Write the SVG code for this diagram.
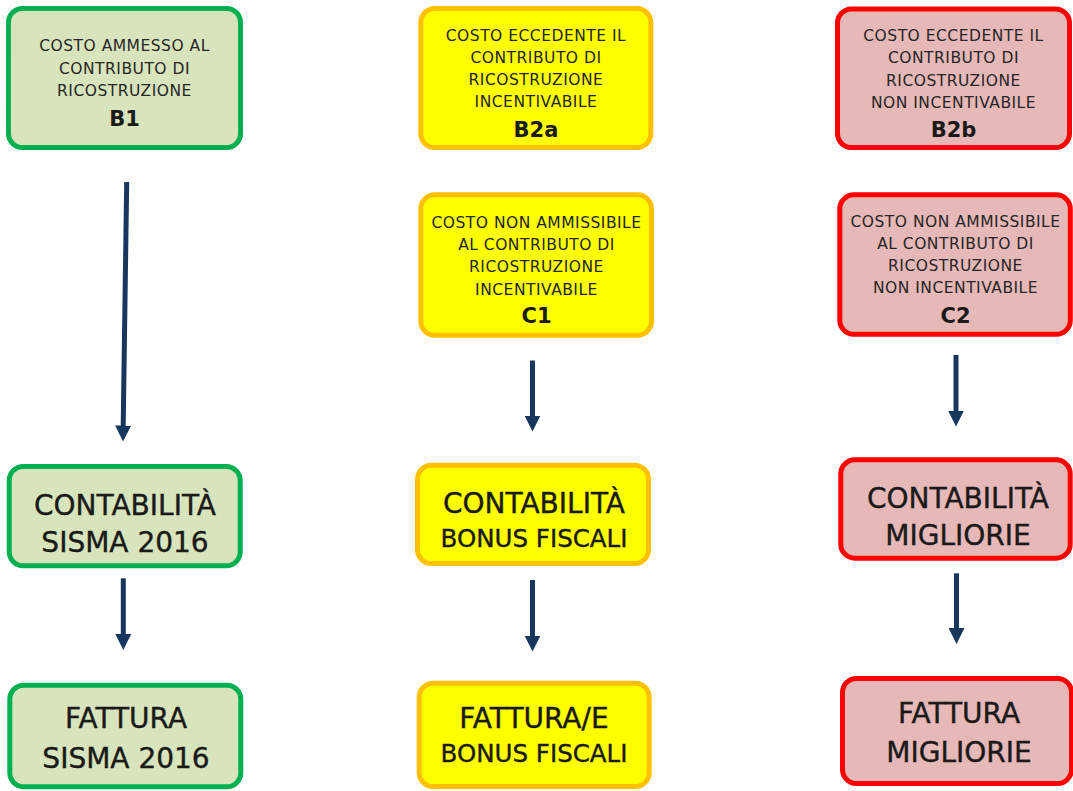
<svg xmlns="http://www.w3.org/2000/svg" width="1073" height="791" viewBox="0 0 1073 791">
<style>
  .box { stroke-width: 5; }
  .g { fill: #D8E4BC; stroke: #00B050; }
  .y { fill: #FFFF00; stroke: #FFC000; }
  .r { fill: #E6B8B7; stroke: #FF0000; }
  text { font-family: "DejaVu Sans", Verdana, sans-serif; text-anchor: middle; fill: #262626; }
  .s { font-size: 15.5px; letter-spacing: 0.5px; }
  .code { font-size: 21px; font-weight: bold; fill: #1a1a1a; }
  .big { font-size: 28px; fill: #1a1a1a; stroke: #1a1a1a; stroke-width: 0.4px; }
  .mid { font-size: 24.5px; fill: #1a1a1a; stroke: #1a1a1a; stroke-width: 0.4px; }
  .arr { stroke: #17375E; stroke-width: 5; fill: none; marker-end: url(#ah); }
</style>
<defs>
  <marker id="ah" viewBox="0 0 16 16" refX="0.5" refY="8" markerWidth="16" markerHeight="16" markerUnits="userSpaceOnUse" orient="auto">
    <path d="M0,0 L16,8 L0,16 z" fill="#17375E"/>
  </marker>
</defs>
<rect width="1073" height="791" fill="#ffffff"/>

<g id="B1">
  <rect class="box g" x="8.5" y="8.5" width="232" height="139" rx="14"/>
  <text class="s" x="124.5" y="51">COSTO AMMESSO AL</text>
  <text class="s" x="124.5" y="73.5">CONTRIBUTO DI</text>
  <text class="s" x="124.5" y="96">RICOSTRUZIONE</text>
  <text class="code" x="124.5" y="126">B1</text>
</g>

<g id="B2a">
  <rect class="box y" x="420.8" y="8.5" width="230" height="139" rx="14"/>
  <text class="s" x="536" y="40.7">COSTO ECCEDENTE IL</text>
  <text class="s" x="536" y="62.7">CONTRIBUTO DI</text>
  <text class="s" x="536" y="85">RICOSTRUZIONE</text>
  <text class="s" x="536" y="107.3">INCENTIVABILE</text>
  <text class="code" x="536" y="136.7">B2a</text>
</g>

<g id="B2b">
  <rect class="box r" x="837.5" y="9" width="232" height="138.5" rx="14"/>
  <text class="s" x="953.5" y="40.7">COSTO ECCEDENTE IL</text>
  <text class="s" x="953.5" y="63.3">CONTRIBUTO DI</text>
  <text class="s" x="953.5" y="86">RICOSTRUZIONE</text>
  <text class="s" x="953.5" y="107.7">NON INCENTIVABILE</text>
  <text class="code" x="953.5" y="137.3">B2b</text>
</g>

<g id="C1">
  <rect class="box y" x="420.8" y="194.8" width="230.7" height="140.5" rx="14"/>
  <text class="s" x="536.5" y="228.3">COSTO NON AMMISSIBILE</text>
  <text class="s" x="536.5" y="250">AL CONTRIBUTO DI</text>
  <text class="s" x="536.5" y="272.3">RICOSTRUZIONE</text>
  <text class="s" x="536.5" y="295">INCENTIVABILE</text>
  <text class="code" x="536.5" y="323.3">C1</text>
</g>

<g id="C2">
  <rect class="box r" x="839.8" y="194.8" width="230.5" height="139.5" rx="14"/>
  <text class="s" x="955.5" y="226.7">COSTO NON AMMISSIBILE</text>
  <text class="s" x="955.5" y="249">AL CONTRIBUTO DI</text>
  <text class="s" x="955.5" y="271">RICOSTRUZIONE</text>
  <text class="s" x="955.5" y="293.3">NON INCENTIVABILE</text>
  <text class="code" x="955.5" y="323.3">C2</text>
</g>

<g id="contabilita-sisma">
  <rect class="box g" x="9.2" y="466.5" width="231" height="99.3" rx="14"/>
  <text class="big" x="125" y="515">CONTABILITÀ</text>
  <text class="big" x="125" y="551.7">SISMA 2016</text>
</g>

<g id="fattura-sisma">
  <rect class="box g" x="9.8" y="685.2" width="231" height="101.6" rx="14"/>
  <text class="big" x="126" y="728">FATTURA</text>
  <text class="big" x="126" y="768">SISMA 2016</text>
</g>

<g id="contabilita-bonus">
  <rect class="box y" x="417.5" y="465.2" width="231" height="98.3" rx="14"/>
  <text class="big" x="534" y="513.3">CONTABILITÀ</text>
  <text class="mid" x="534" y="547.3">BONUS FISCALI</text>
</g>

<g id="fattura-bonus">
  <rect class="box y" x="419.2" y="683.2" width="230" height="103.3" rx="14"/>
  <text class="big" x="534" y="727.7">FATTURA/E</text>
  <text class="mid" x="534" y="761.7">BONUS FISCALI</text>
</g>

<g id="contabilita-migliorie">
  <rect class="box r" x="840.8" y="459.8" width="229.4" height="98.4" rx="14"/>
  <text class="big" x="958" y="508">CONTABILITÀ</text>
  <text class="big" x="958" y="545">MIGLIORIE</text>
</g>

<g id="fattura-migliorie">
  <rect class="box r" x="842.5" y="678.5" width="229" height="105" rx="14"/>
  <text class="big" x="959" y="723">FATTURA</text>
  <text class="big" x="959" y="761.7">MIGLIORIE</text>
</g>

<g id="connectors">
  <path class="arr" d="M126.7,182 L123.2,426"/>
  <path class="arr" d="M532.5,360.5 L532.5,416"/>
  <path class="arr" d="M956,355 L956,411"/>
  <path class="arr" d="M123.3,578.3 L123.3,634.5"/>
  <path class="arr" d="M532.5,580 L532.5,636"/>
  <path class="arr" d="M956.5,573.3 L956.5,628.5"/>
</g>
</svg>
